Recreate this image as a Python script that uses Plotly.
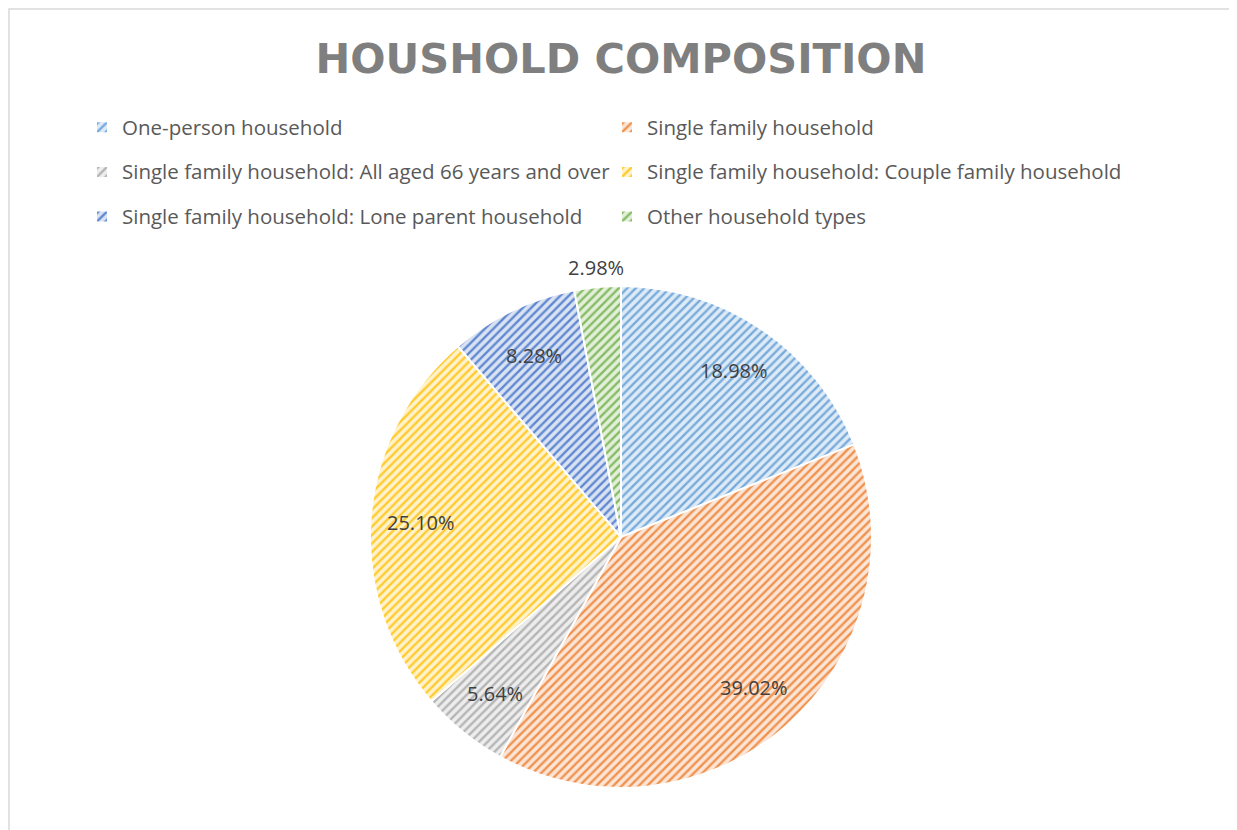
import math
import plotly.graph_objects as go

# Data
labels = [
    "One-person household",
    "Single family household",
    "Single family household: All aged 66 years and over",
    "Single family household: Couple family household",
    "Single family household: Lone parent household",
    "Other household types",
]
shares = [18.98, 39.02, 5.64, 25.10, 8.28, 2.98]

# Office palette (slightly lightened) for stripes, pale tints for background
stripe_colors = ["#78abdb", "#f0924f", "#b5b5b5", "#ffcb2e", "#6189d0", "#88bb66"]
back_colors = ["#deebf7", "#fbe5d6", "#ededed", "#fff2cc", "#dae3f3", "#e2f0d9"]
outside = [False, False, False, False, False, True]

# the page has an 8px body margin, so work in page px and shift
OFF = 8
W, H = 1237 - OFF, 830 - OFF
cx, cy, r = 621 - OFF, 537 - OFF, 251  # pie centre / radius in px

# legend text wrapped smaller than legend font -> taller rows like Excel
legend_labels = [
    f'<span style="font-size:20.5px;baseline-shift:5px">{t}</span>' for t in labels
]

fig = go.Figure()

fig.add_trace(go.Pie(
    labels=legend_labels,
    values=shares,
    sort=False,
    direction="clockwise",
    rotation=0,
    marker=dict(
        colors=back_colors,
        line=dict(color="white", width=2),
        pattern=dict(
            shape="/",
            fgcolor=stripe_colors,
            bgcolor=back_colors,
            size=6,
            solidity=0.4,
        ),
    ),
    textinfo="none",
    hoverinfo="skip",
    domain=dict(
        x=[(cx - r) / W, (cx + r) / W],
        y=[(H - cy - r) / H, (H - cy + r) / H],
    ),
))

# data labels placed like Excel (inside end ~0.8R, small slice outside)
annotations = []
total = sum(shares)
cum = 0
for v, out in zip(shares, outside):
    mid = (cum + v / 2) / total * 2 * math.pi
    cum += v
    rr = r * (1.08 if out else 0.8)
    px = cx + rr * math.sin(mid)
    py = cy - rr * math.cos(mid)
    annotations.append(dict(
        x=px / W, y=1 - py / H, xref="paper", yref="paper",
        text=f"{v:.2f}%", showarrow=False,
        xanchor="center", yanchor="middle",
        font=dict(family="Open Sans", size=20, color="#404040"),
    ))

fig.update_layout(
    width=W,
    height=H,
    paper_bgcolor="white",
    margin=dict(l=0, r=0, t=0, b=0),
    title=dict(
        text="<b>HOUSHOLD COMPOSITION</b>",
        font=dict(family="DejaVu Sans", size=41.5, color="#7f7f7f"),
        x=(621 - OFF) / W, xanchor="center",
        y=1 - (58 - OFF) / H, yanchor="middle",
        yref="container",
    ),
    legend=dict(
        orientation="h",
        x=(82 - OFF) / W, xanchor="left",
        y=1 - (100 - OFF) / H, yanchor="top",
        entrywidth=480,
        font=dict(family="Open Sans", size=32, color="#595959"),
        traceorder="normal",
    ),
    annotations=annotations,
    # chart area frame
    shapes=[dict(
        type="rect", xref="paper", yref="paper",
        x0=1 / W, x1=(1232 - OFF) / W, y0=-0.05, y1=1 - 1 / H,
        line=dict(color="#d9d9d9", width=1.5),
        fillcolor="rgba(0,0,0,0)",
    )],
)

fig.write_html("out.html")
